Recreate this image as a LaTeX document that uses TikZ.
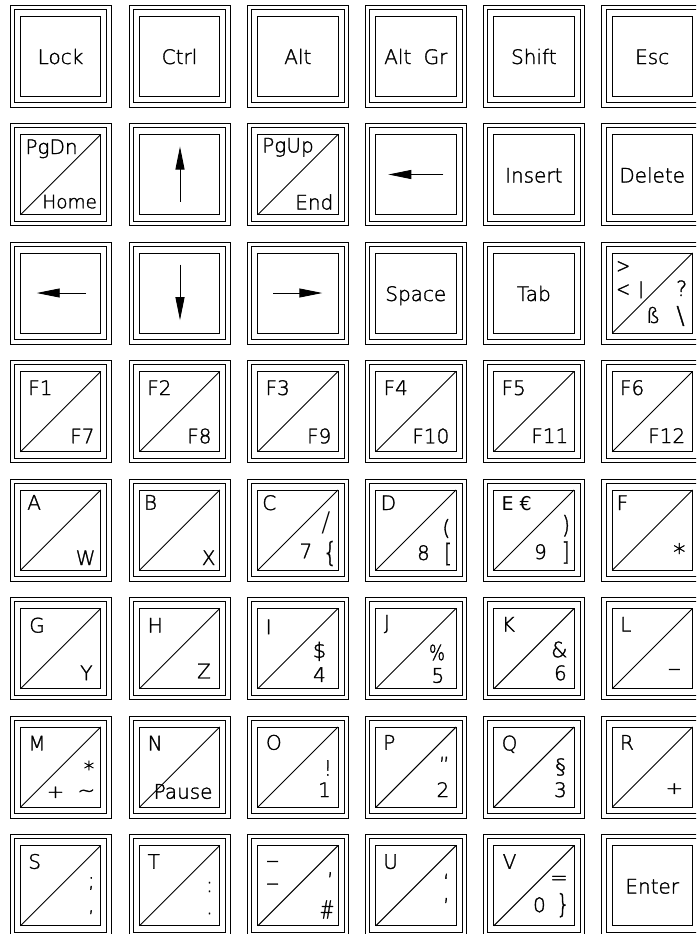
\documentclass[tikz,border=0pt]{standalone}
\usepackage{fontspec}
\usepackage{graphicx}
\usetikzlibrary{arrows.meta}
\newfontfamily\kfont[FakeBold=1.5]{DejaVu Sans ExtraLight}
\newfontfamily\kthin{DejaVu Sans ExtraLight}
\newfontfamily\kbold{DejaVu Sans}
\tikzset{
  keyline/.style={line width=0.9pt, draw=black},
  lbl/.style={inner sep=0pt, outer sep=0pt, font={\kfont\fontsize{20}{24}\selectfont}},
  tl/.style={lbl, anchor=base west},
  br/.style={lbl, anchor=base east},
  ctr/.style={lbl, anchor=base},
  sym/.style={inner sep=0pt, outer sep=0pt, anchor=center, font={\kfont\fontsize{21}{24}\selectfont}},
  bigsym/.style={sym, font={\kthin\fontsize{27}{30}\selectfont}},
  keyarrow/.style={line width=0.9pt, -{Triangle[length=23pt,width=9pt]}},
}
% key frame: #1 x, #2 y (top-left, in px), #3 body
\newcommand\kbkey[3]{%
  \begin{scope}[shift={(#1,#2)}]
    \draw[keyline] (0,0) rectangle (101,102);
    \draw[keyline] (4.3,4.3) rectangle (96.7,97.7);
    \draw[keyline] (10.5,11) rectangle (90.8,91.3);
    #3
  \end{scope}}
\newcommand\kbdiag{\draw[keyline] (10.5,91.3) -- (90.8,11);}
\begin{document}
\begin{tikzpicture}[x={(1pt,0)}, y={(0,-1pt)}]
\useasboundingbox (0,0) rectangle (696,934);
\clip (0,0) rectangle (696,934);
% ---------- row 1
\kbkey{10}{5}{\node[ctr] (lock) at (50.5,59) {Lock};}
\kbkey{129}{5}{\node[ctr] (ctrl) at (50.5,59) {Ctrl};}
\kbkey{247.3}{5}{\node[ctr] (alt) at (50.5,59) {Alt};}
\kbkey{365.3}{5}{\node[ctr] (altgr) at (50.5,59) {Alt\hspace{6pt} Gr};}
\kbkey{483.3}{5}{\node[ctr] (shift) at (50.5,59) {Shift};}
\kbkey{601.7}{5}{\node[ctr] (esc) at (50.5,59) {Esc};}
% ---------- row 2
\kbkey{10}{123.5}{\kbdiag
  \node[tl] (pgdn) at (15.5,30.5) {PgDn};
  \node[br, font={\kfont\fontsize{18.5}{22}\selectfont}] (home) at (87,84.8) {Home};}
\kbkey{129}{123.5}{
  \coordinate (upA) at (51,78); \coordinate (upB) at (51,23);
  \draw[keyarrow] (upA) -- (upB);}
\kbkey{247.3}{123.5}{\kbdiag
  \node[tl] (pgup) at (15,29) {PgUp};
  \node[br] (end) at (86,86) {End};}
\kbkey{365.3}{123.5}{
  \coordinate (lfA) at (78,51); \coordinate (lfB) at (23,51);
  \draw[keyarrow] (lfA) -- (lfB);}
\kbkey{483.3}{123.5}{\node[ctr] (insert) at (50.5,59) {Insert};}
\kbkey{601.7}{123.5}{\node[ctr] (delete) at (50.5,59) {Delete};}
% ---------- row 3
\kbkey{10}{242}{
  \coordinate (lgA) at (76,51); \coordinate (lgB) at (26.7,51);
  \draw[keyarrow] (lgA) -- (lgB);}
\kbkey{129}{242}{
  \coordinate (dnA) at (51,22.5); \coordinate (dnB) at (51,78.2);
  \draw[keyarrow] (dnA) -- (dnB);}
\kbkey{247.3}{242}{
  \coordinate (rtA) at (26,51); \coordinate (rtB) at (75,51);
  \draw[keyarrow] (rtA) -- (rtB);}
\kbkey{365.3}{242}{\node[ctr] (space) at (50.5,59) {Space};}
\kbkey{483.3}{242}{\node[ctr] (tab) at (50.5,59) {Tab};}
\kbkey{601.7}{242}{\kbdiag
  \node[sym] (gt) at (21.5,25) {\scalebox{0.8}[1]{>}};
  \node[sym] (lt) at (21.5,48.3) {\scalebox{0.8}[1]{<}};
  \node[sym] (bar) at (39.3,47.8) {\scalebox{1}[0.8]{|}};
  \node[sym] (qm) at (80,46.2) {?};
  \node[sym] (sz) at (51.5,73) {ß};
  \node[bigsym, font={\kfont\fontsize{24}{28}\selectfont}] (bsl) at (78.8,74) {\textbackslash};}
% ---------- row 4
\kbkey{10}{360.5}{\kbdiag
  \node[tl] (f1) at (18.3,34.5) {F1}; \node[br] (f7) at (84.5,82.8) {F7};}
\kbkey{129}{360.5}{\kbdiag
  \node[tl] (f2) at (18.3,34.5) {F2}; \node[br] (f8) at (82.5,82.8) {F8};}
\kbkey{247.3}{360.5}{\kbdiag
  \node[tl] (f3) at (18.3,34.5) {F3}; \node[br] (f9) at (84,82.8) {F9};}
\kbkey{365.3}{360.5}{\kbdiag
  \node[tl] (f4) at (18.3,34.5) {F4}; \node[br] (f10) at (84,82.8) {F10};}
\kbkey{483.3}{360.5}{\kbdiag
  \node[tl] (f5) at (18.3,34.5) {F5}; \node[br] (f11) at (85,82.5) {F11};}
\kbkey{601.7}{360.5}{\kbdiag
  \node[tl] (f6) at (18.3,34.5) {F6}; \node[br] (f12) at (83.5,82.5) {F12};}
% ---------- row 5
\kbkey{10}{479}{\kbdiag
  \node[tl] (ka) at (17.3,30.7) {A}; \node[br] (kw) at (85.5,86) {W};}
\kbkey{129}{479}{\kbdiag
  \node[tl] (kb) at (15,30.7) {B}; \node[br] (kx) at (86.5,86) {X};}
\kbkey{247.3}{479}{\kbdiag
  \node[tl] (kc) at (15,31) {C};
  \node[bigsym] (slash) at (78.5,43.7) {/};
  \node[br] (k7) at (65,79.3) {7};
  \node[sym] (lbrace) at (82.7,74.5) {\scalebox{1}[1.3]{\{}};}
\kbkey{365.3}{479}{\kbdiag
  \node[tl] (kd) at (15.4,31) {D};
  \node[sym] (lpar) at (81,49.5) {(};
  \node[br] (k8) at (64.5,81) {8};
  \node[sym] (lbrack) at (82.7,75) {\scalebox{1}[1.2]{[}};}
\kbkey{483.3}{479}{\kbdiag
  \node[tl, font={\kbold\fontsize{19}{22}\selectfont}] (ke) at (18.3,31) {E €};
  \node[sym] (rpar) at (82.7,46.7) {\scalebox{1}[1.15]{)}};
  \node[br] (k9) at (63.5,80) {9};
  \node[sym] (rbrack) at (82.4,73.5) {\scalebox{1}[1.2]{]}};}
\kbkey{601.7}{479}{\kbdiag
  \node[tl] (kf) at (15,31) {F};
  \node[sym] (star1) at (77.6,73) {\scalebox{1.15}{*}};}
% ---------- row 6
\kbkey{10}{597.5}{\kbdiag
  \node[tl] (kg) at (19.3,35) {G}; \node[br] (ky) at (82.5,82.7) {Y};}
\kbkey{129}{597.5}{\kbdiag
  \node[tl] (kh) at (18.7,35) {H}; \node[br] (kz) at (81.8,80.8) {Z};}
\kbkey{247.3}{597.5}{\kbdiag
  \node[tl] (ki) at (18.4,36.7) {I};
  \node[sym] (dollar) at (72.2,53.9) {\$};
  \node[br] (k4) at (78.5,84.4) {4};}
\kbkey{365.3}{597.5}{\kbdiag
  \node[tl] (kj) at (18.7,32) {J};
  \node[sym] (pct) at (71.7,55) {\scalebox{0.8}[1]{\%}};
  \node[br] (k5) at (79,85.2) {5};}
\kbkey{483.3}{597.5}{\kbdiag
  \node[tl] (kk) at (18.4,34) {K};
  \node[sym] (amp) at (76,52) {\&};
  \node[br] (k6) at (83.5,82.7) {6};}
\kbkey{601.7}{597.5}{\kbdiag
  \node[tl] (kl) at (18.6,34) {L};
  \node[sym] (minus1) at (72.7,74.7) {\scalebox{1.25}[1]{–}};}
% ---------- row 7
\kbkey{10}{716}{\kbdiag
  \node[tl] (km) at (18.3,34.4) {M};
  \node[sym] (star2) at (79,52.5) {*};
  \node[sym] (plus1) at (45.5,76.3) {\scalebox{1}[0.85]{+}};
  \node[sym] (tilde) at (76.3,77.5) {\textasciitilde};}
\kbkey{129}{716}{\kbdiag
  \node[tl] (kn) at (18.7,34.4) {N};
  \node[br] (pause) at (83.5,82.7) {Pause};}
\kbkey{247.3}{716}{\kbdiag
  \node[tl] (ko) at (18.7,33.7) {O};
  \node[sym] (excl) at (80.5,52) {!};
  \node[br] (k1) at (83.5,81) {1};}
\kbkey{365.3}{716}{\kbdiag
  \node[tl] (kp) at (18,33.7) {P};
  \node[sym] (dquote) at (79,48.5) {”};
  \node[br] (k2) at (84,81) {2};}
\kbkey{483.3}{716}{\kbdiag
  \node[tl] (kq) at (18.4,34.4) {Q};
  \node[sym] (para) at (77.3,51) {§};
  \node[br] (k3) at (83.5,81) {3};}
\kbkey{601.7}{716}{\kbdiag
  \node[tl] (kr) at (18.3,33.7) {R};
  \node[sym] (plus2) at (72.7,72.7) {\scalebox{1}[0.8]{+}};}
% ---------- row 8
\kbkey{10}{834.5}{\kbdiag
  \node[tl] (ks) at (18.3,34.3) {S};
  \node[sym] (semi) at (81.3,49) {;};
  \node[sym] (comma1) at (81.3,77.7) {,};}
\kbkey{129}{834.5}{\kbdiag
  \node[tl] (kt) at (18.7,34.3) {T};
  \node[sym] (colon) at (80.5,52.5) {:};
  \node[sym] (dot) at (80.5,79) {.};}
\kbkey{247.3}{834.5}{\kbdiag
  \node[sym] (uscore) at (25.4,29.6) {\scalebox{1.25}[1]{–}};
  \node[sym] (minus2) at (25.4,52.3) {\scalebox{1.25}[1]{–}};
  \node[sym] (apos1) at (83,45.5) {’};
  \node[sym] (hash) at (79.7,75) {\scalebox{0.85}[1.2]{\#}};}
\kbkey{365.3}{834.5}{\kbdiag
  \node[tl] (ku) at (18,34.3) {U};
  \node[sym] (lsq) at (81,47) {‘};
  \node[sym] (rsq) at (81,71.3) {’};}
\kbkey{483.3}{834.5}{\kbdiag
  \node[tl] (kv) at (19.4,34.3) {V};
  \node[sym] (equal) at (75.7,45.8) {=};
  \node[br] (k0) at (62.5,77.6) {0};
  \node[sym] (rbrace) at (79.8,70.7) {\scalebox{1}[1.25]{\}}};}
\kbkey{601.7}{834.5}{\node[ctr] (enter) at (50.5,59) {Enter};}
\end{tikzpicture}
\end{document}
